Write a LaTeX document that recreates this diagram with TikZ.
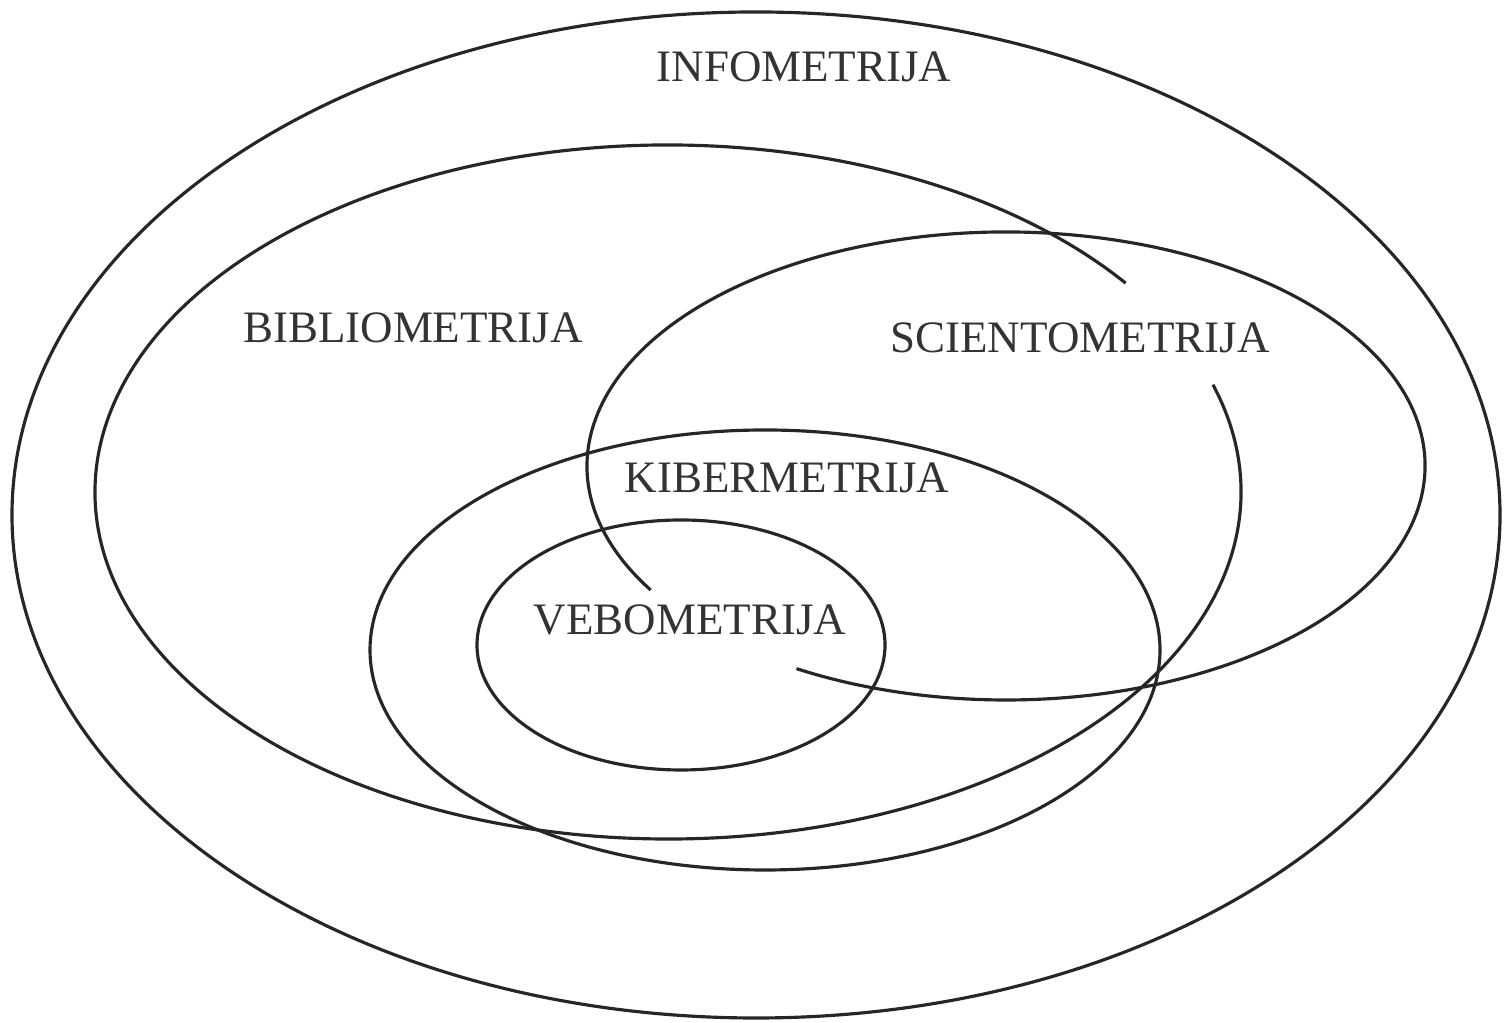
\documentclass[tikz,border=0pt]{standalone}
\usepackage{fontspec}
\setmainfont{Liberation Serif}
\tikzset{
  ring/.style={line width=0.9pt, black!85},
  lbl/.style={font=\fontsize{12.8}{15}\selectfont, text=black!80, inner sep=0pt}
}

\begin{document}
\begin{tikzpicture}
      \useasboundingbox (0,0) rectangle (15.05,10.23);
      % infometrija
      \draw[ring] (7.56,5.08) ellipse[x radius=7.44, y radius=5.03];
      \node[lbl] (info) at (8.04,9.56) {INFOMETRIJA};

      % bibliometrija (open)
      \draw[ring] (6.68,5.31) ++(37:5.73 and 3.47)
        arc[start angle=37, end angle=378, x radius=5.73, y radius=3.47];
      \node[lbl] (biblio) at (4.13,6.95) {BIBLIOMETRIJA};

      % scientometrija (open)
      \draw[ring] (10.06,5.57) ++(212:4.19 and 2.34)
        arc[start angle=212, end angle=-120, x radius=4.19, y radius=2.34];
      \node[lbl] (scient) at (10.80,6.85) {SCIENTOMETRIJA};

      % kibermetrija
      \draw[ring] (7.65,3.73) ellipse[x radius=3.95, y radius=2.20];
      \node[lbl] (kiber) at (7.87,5.45) {KIBERMETRIJA};

      % vebometrija
      \draw[ring] (6.81,3.78) ellipse[x radius=2.04, y radius=1.25];
      \node[lbl] (vebo) at (6.90,4.03) {VEBOMETRIJA};
\end{tikzpicture}
\end{document}
